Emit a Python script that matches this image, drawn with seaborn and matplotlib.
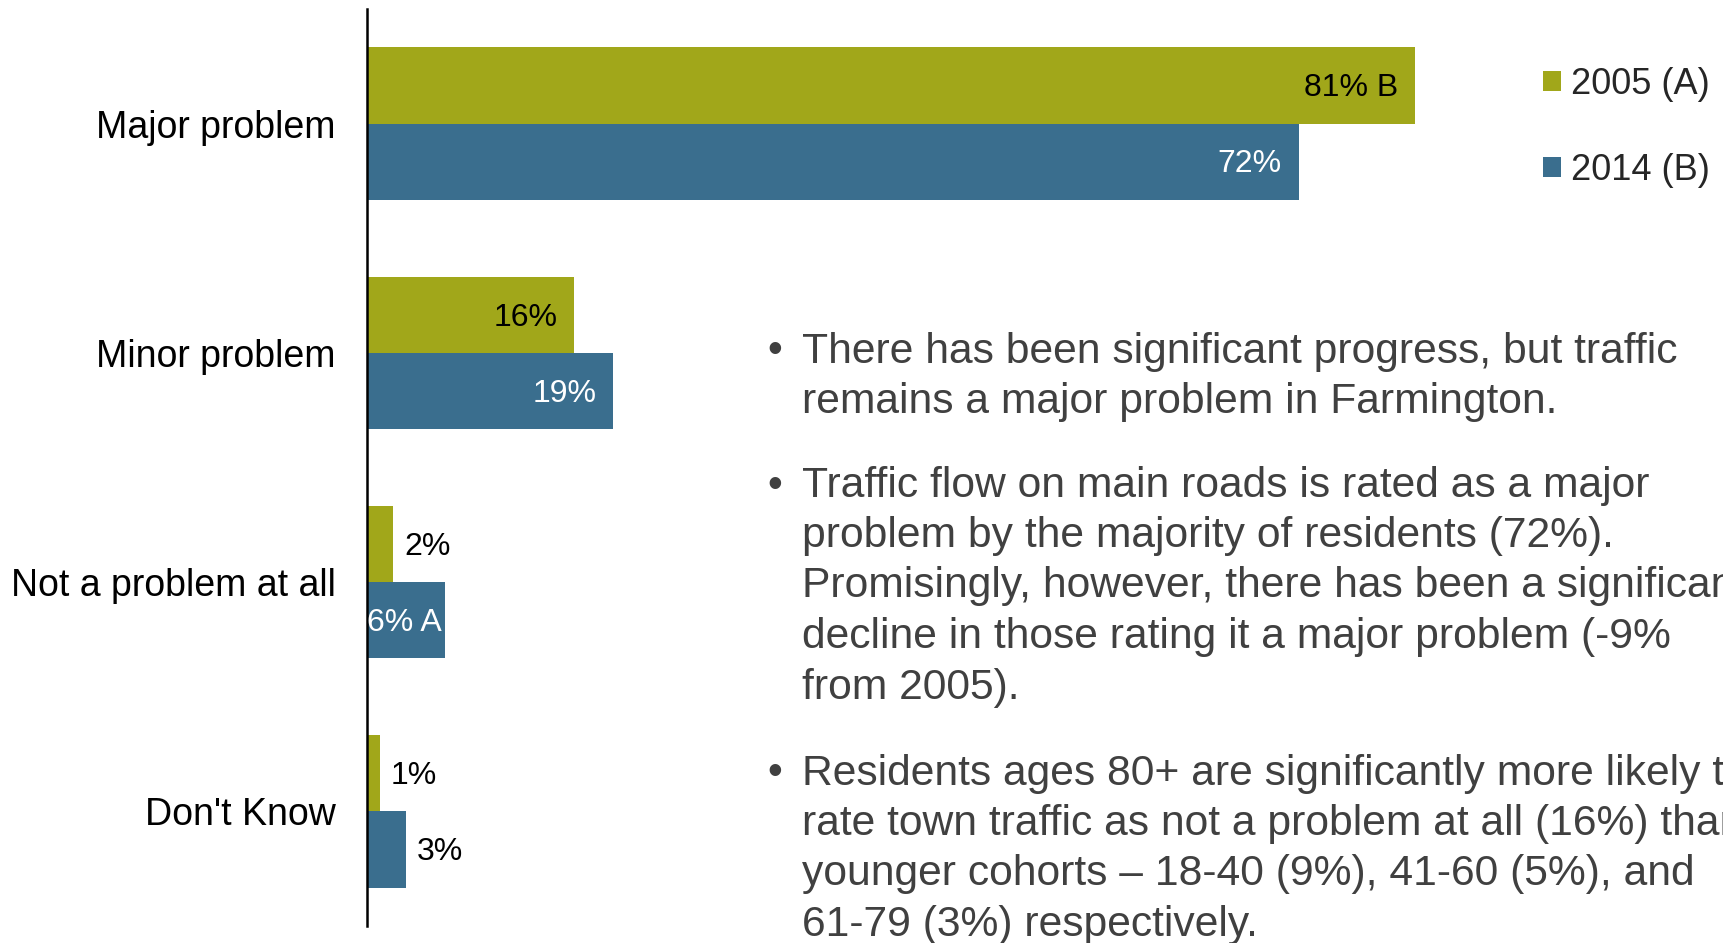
import matplotlib
matplotlib.use("Agg")
import matplotlib.pyplot as plt
import seaborn as sns
import pandas as pd

# Data
categories = ["Major problem", "Minor problem", "Not a problem at all", "Don't Know"]
years = ["2005 (A)", "2014 (B)"]
values_2005 = [81, 16, 2, 1]
values_2014 = [72, 19, 6, 3]
labels_2005 = ["81% B", "16%", "2%", "1%"]
labels_2014 = ["72%", "19%", "6% A", "3%"]

bullets = [
    ["There has been significant progress, but traffic",
     "remains a major problem in Farmington."],
    ["Traffic flow on main roads is rated as a major",
     "problem by the majority of residents (72%).",
     "Promisingly, however, there has been a significant",
     "decline in those rating it a major problem (-9%",
     "from 2005)."],
    ["Residents ages 80+ are significantly more likely to",
     "rate town traffic as not a problem at all (16%) than",
     "younger cohorts \u2013 18-40 (9%), 41-60 (5%), and",
     "61-79 (3%) respectively."],
]

green = "#A1A71A"
blue = "#3A6E8E"

df = pd.DataFrame({
    "response": categories * 2,
    "pct": values_2005 + values_2014,
    "year": [years[0]] * 4 + [years[1]] * 4,
})

sns.set_theme(style="white")
plt.rcParams["font.family"] = ["Liberation Sans", "DejaVu Sans"]

fig = plt.figure(figsize=(17.23, 9.43), dpi=100)
ax = fig.add_axes([0.213, 0.018, 0.787, 0.9725])

sns.barplot(
    data=df, y="response", x="pct", hue="year",
    order=categories, hue_order=years,
    palette=[green, blue], width=0.665, orient="h",
    linewidth=0, saturation=1, ax=ax
)

ax.set_xlim(0, 104.8)
ax.set_ylim(3.5, -0.5)
ax.set_xlabel("")
ax.set_ylabel("")
ax.set_xticks([])
ax.tick_params(axis="y", length=0, pad=22.5, labelsize=27, labelcolor="black")
for s in ["top", "right", "bottom"]:
    ax.spines[s].set_visible(False)
ax.spines["left"].set_color("black")
ax.spines["left"].set_linewidth(1.8)
ax.set_facecolor("none")

# bar labels
for cont, vals, labs, inside_col in zip(ax.containers, [values_2005, values_2014],
                                        [labels_2005, labels_2014], ["black", "white"]):
    for bar, v, lab in zip(cont, vals, labs):
        yc = bar.get_y() + bar.get_height() / 2
        if v >= 5:
            pad = -12 if v >= 10 else -2
            ax.annotate(lab, (v, yc), xytext=(pad, -2), textcoords="offset points",
                        ha="right", va="center", fontsize=23, color=inside_col)
        else:
            ax.annotate(lab, (v, yc), xytext=(8, -2), textcoords="offset points",
                        ha="left", va="center", fontsize=23, color="black")

# legend
leg = ax.legend(loc="upper left", bbox_to_anchor=(1543 / 1723, 1 - 67 / 943),
                bbox_transform=fig.transFigure, frameon=False, fontsize=26,
                handlelength=0.5, handleheight=0.5, handletextpad=0.28,
                labelspacing=1.41, borderpad=0, borderaxespad=0)

# bullet text
line_h = 50.5
starts = [351.5, 485.5, 773.5]
for para, y0 in zip(bullets, starts):
    fig.text(775 / 1723, 1 - y0 / 943, "\u2022", fontsize=30.7, color="#404040",
             ha="center", va="center")
    for i, line in enumerate(para):
        fig.text(802 / 1723, 1 - (y0 + i * line_h) / 943, line, fontsize=30.7,
                 color="#404040", ha="left", va="center")

fig.savefig("out.png", dpi=100)
